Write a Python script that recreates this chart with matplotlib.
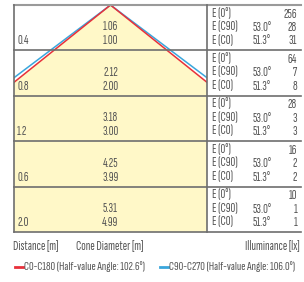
import numpy as np
import matplotlib
matplotlib.use("Agg")
import matplotlib.pyplot as plt
from matplotlib.patches import Polygon, Rectangle

plt.rcParams['font.family'] = ['Sofia Sans Extra Condensed', 'DejaVu Sans']

# data
distances = ['0.4', '0.8', '1.2', '0.6', '2.0']
diam_c90 = ['1.06', '2.12', '3.18', '4.25', '5.31']
diam_c0 = ['1.00', '2.00', '3.00', '3.99', '4.99']
e_center = [256, 64, 28, 16, 10]
e_c90 = [28, 7, 3, 2, 1]
e_c0 = [31, 8, 3, 2, 1]
angle_c90 = '53.0°'
angle_c0 = '51.3°'
half_value_c0 = 102.6
half_value_c90 = 106.0

txt = '#555555'
grid = '#6e6e6e'
fill = '#fff8c8'
red = '#e8303a'
blue = '#3aa6dc'

fig = plt.figure(figsize=(3.04, 2.82), dpi=100)
ax = fig.add_axes([0, 0, 1, 1])
ax.set_xlim(0, 304)
ax.set_ylim(282, 0)
ax.axis('off')

left, mid, right = 14, 207, 301
top = 5
row_h = 45.4
n = len(distances)
bottom = top + row_h * n
apex_x = (left + mid) / 2

# cone (clipped to the left panel)
clip = Rectangle((left, top), mid - left, bottom - top, transform=ax.transData)
for ang, col, z in [(half_value_c90, blue, 3), (half_value_c0, red, 4)]:
    t = np.tan(np.radians(ang / 2))
    dy = (mid - apex_x) / t * 3
    xs = [apex_x - dy * t, apex_x, apex_x + dy * t]
    ys = [top + dy, top, top + dy]
    if col == red:
        poly = Polygon(list(zip(xs, ys)), closed=True, facecolor=fill, edgecolor='none', zorder=1)
        ax.add_patch(poly)
        poly.set_clip_path(clip)
    ln, = ax.plot(xs, ys, color=col, lw=1.1, zorder=z, solid_capstyle='butt')
    ln.set_clip_path(clip)

# grid
ax.plot([left, right], [top, top], color='#9a9a9a', lw=1.5, zorder=5)
ax.plot([left, left], [top, bottom], color=grid, lw=1.2, zorder=5)
ax.plot([mid, mid], [top, bottom], color=grid, lw=1.2, zorder=5)
for i in range(1, n + 1):
    y = top + row_h * i
    ax.plot([left, right], [y, y], color=grid, lw=1.2, zorder=5)

fs = 9.6
for i in range(n):
    y0 = top + row_h * i
    ax.text(left + 3, y0 + 36, distances[i], fontsize=fs, color=txt, va='center', ha='left', zorder=6)
    ax.text(apex_x, y0 + 22, diam_c90[i], fontsize=fs, color=txt, va='center', ha='center', zorder=6)
    ax.text(apex_x, y0 + 36, diam_c0[i], fontsize=fs, color=txt, va='center', ha='center', zorder=6)
    ax.text(mid + 5, y0 + 9, 'E (0°)', fontsize=fs, color=txt, va='center', ha='left')
    ax.text(mid + 5, y0 + 22.5, 'E (C90)', fontsize=fs, color=txt, va='center', ha='left')
    ax.text(mid + 5, y0 + 36, 'E (C0)', fontsize=fs, color=txt, va='center', ha='left')
    ax.text(262, y0 + 22.5, angle_c90, fontsize=fs, color=txt, va='center', ha='center')
    ax.text(262, y0 + 36, angle_c0, fontsize=fs, color=txt, va='center', ha='center')
    ax.text(297, y0 + 9, str(e_center[i]), fontsize=fs, color=txt, va='center', ha='right')
    ax.text(297, y0 + 22.5, str(e_c90[i]), fontsize=fs, color=txt, va='center', ha='right')
    ax.text(297, y0 + 36, str(e_c0[i]), fontsize=fs, color=txt, va='center', ha='right')

ax.text(13, 246, 'Distance [m]', fontsize=fs, color=txt, va='center', ha='left')
ax.text(76, 246, 'Cone Diameter [m]', fontsize=fs, color=txt, va='center', ha='left')
ax.text(300, 246, 'Illuminance [lx]', fontsize=fs, color=txt, va='center', ha='right')

lfs = 9.2
ax.plot([15, 23], [267, 267], color=red, lw=2)
ax.text(24, 267, 'C0-C180 (Half-value Angle: %.1f°)' % half_value_c0, fontsize=lfs, color=txt, va='center', ha='left')
ax.plot([160, 168], [267, 267], color=blue, lw=2)
ax.text(169, 267, 'C90-C270 (Half-value Angle: %.1f°)' % half_value_c90, fontsize=lfs, color=txt, va='center', ha='left')

fig.savefig('out.png', dpi=100)
